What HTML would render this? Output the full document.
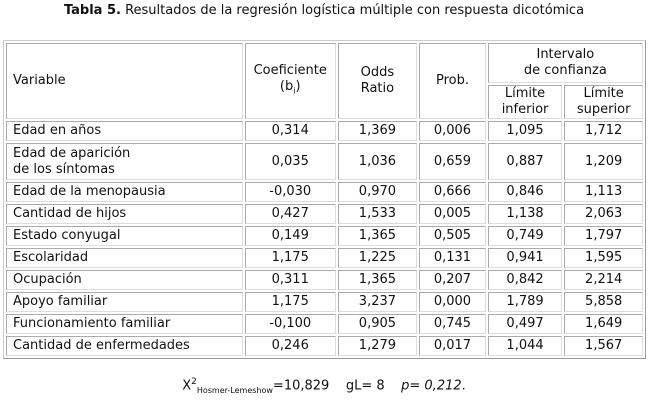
<!DOCTYPE html>
<html><head><meta charset="utf-8"><style>
body{margin:0;width:648px;height:400px;background:#fff;font-family:"DejaVu Sans","Liberation Sans",sans-serif;font-size:13px;color:#111;position:relative;overflow:hidden}
.t{position:absolute;top:3px;left:0;width:648px;text-align:center;font-size:13px}
table{position:absolute;left:3px;top:40px;width:643px;border-collapse:separate;border-spacing:2px;border:1px solid #999;border-top-color:#ccc;border-left-color:#ccc}
td{border:1px solid #aaa;border-right-color:#ddd;border-bottom-color:#ddd;padding:0 4px;line-height:16px;text-align:center}
td.l{text-align:left;padding-left:6px}
td.c{text-align:center}
.f{position:absolute;top:377px;left:0;width:648px;text-align:center;font-size:13px}
sub{font-size:8px}
</style></head><body>
<div class="t"><b>Tabla 5.</b> Resultados de la regresión logística múltiple con respuesta dicotómica</div>
<table>
<tr style="height:40px"><td class="l" rowspan="2" style="width:223px">Variable</td><td class="c" rowspan="2" style="width:80px">Coeficiente<br>(b<sub>i</sub>)</td><td class="c" rowspan="2" style="width:69px">Odds<br>Ratio</td><td class="c" rowspan="2" style="width:56px">Prob.</td><td class="c" colspan="2">Intervalo<br>de confianza</td></tr>
<tr style="height:34px"><td class="c" style="width:64px">Límite<br>inferior</td><td class="c" style="width:68px">Límite<br>superior</td></tr>
<tr style="height:20px"><td class="l">Edad en años</td><td>0,314</td><td>1,369</td><td>0,006</td><td>1,095</td><td>1,712</td></tr>
<tr style="height:37px"><td class="l">Edad de aparición<br>de los síntomas</td><td>0,035</td><td>1,036</td><td>0,659</td><td>0,887</td><td>1,209</td></tr>
<tr style="height:20px"><td class="l">Edad de la menopausia</td><td>-0,030</td><td>0,970</td><td>0,666</td><td>0,846</td><td>1,113</td></tr>
<tr style="height:20px"><td class="l">Cantidad de hijos</td><td>0,427</td><td>1,533</td><td>0,005</td><td>1,138</td><td>2,063</td></tr>
<tr style="height:20px"><td class="l">Estado conyugal</td><td>0,149</td><td>1,365</td><td>0,505</td><td>0,749</td><td>1,797</td></tr>
<tr style="height:20px"><td class="l">Escolaridad</td><td>1,175</td><td>1,225</td><td>0,131</td><td>0,941</td><td>1,595</td></tr>
<tr style="height:20px"><td class="l">Ocupación</td><td>0,311</td><td>1,365</td><td>0,207</td><td>0,842</td><td>2,214</td></tr>
<tr style="height:20px"><td class="l">Apoyo familiar</td><td>1,175</td><td>3,237</td><td>0,000</td><td>1,789</td><td>5,858</td></tr>
<tr style="height:20px"><td class="l">Funcionamiento familiar</td><td>-0,100</td><td>0,905</td><td>0,745</td><td>0,497</td><td>1,649</td></tr>
<tr style="height:20px"><td class="l">Cantidad de enfermedades</td><td>0,246</td><td>1,279</td><td>0,017</td><td>1,044</td><td>1,567</td></tr>
</table>
<div class="f">X<sup style="font-size:9px">2</sup><sub>Hosmer-Lemeshow</sub>=10,829&nbsp;&nbsp;&nbsp;&nbsp;gL= 8&nbsp;&nbsp;&nbsp;&nbsp;<i>p= 0,212</i>.</div>
</body></html>
